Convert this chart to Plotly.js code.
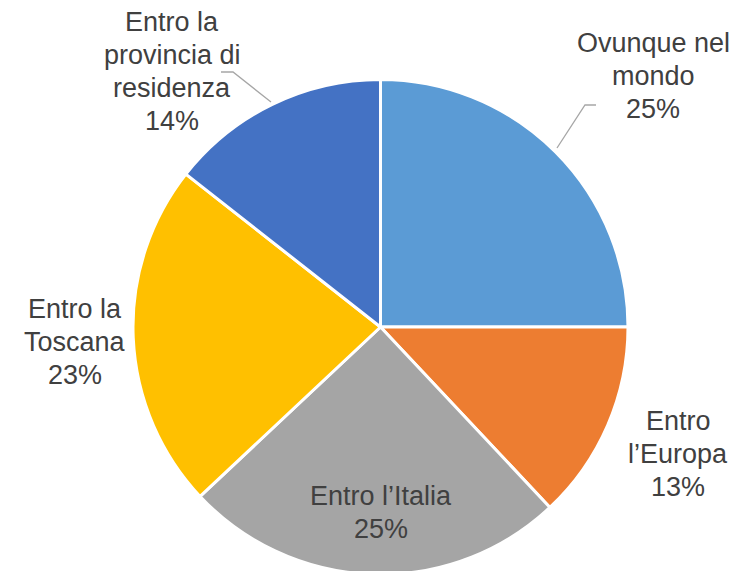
<!DOCTYPE html>
<html>
<head>
<meta charset="utf-8">
<script src="https://cdn.plot.ly/plotly-3.0.1.min.js"></script>
<style>
html, body { margin: 0; padding: 0; overflow: hidden; background: #fff; }
#chart { width: 735px; height: 575px; }
</style>
</head>
<body>
<div id="chart"></div>
<script>
// Data
const categories = ["Ovunque nel mondo", "Entro l\u2019Europa", "Entro l\u2019Italia", "Entro la Toscana", "Entro la provincia di residenza"];
const labelLines = [["Ovunque nel", "mondo"], ["Entro", "l\u2019Europa"], ["Entro l\u2019Italia"], ["Entro la", "Toscana"], ["Entro la", "provincia di", "residenza"]];
const values = [25, 13, 25, 22.6, 14.4];
const colors = ["#5B9BD5", "#ED7D31", "#A5A5A5", "#FFC000", "#4472C4"];

// Layout geometry (pixels)
const W = 735, H = 575;
const cx = 380.5, cy = 327, R = 247.5;
const lineStep = 33;
const labelPos = [[653, 76], [678, 454], [381, 512], [75, 342], [172, 71.5]];
const leaders = [
  [[596, 105], [585, 105], [557, 148]],
  null, null, null,
  [[221, 72], [233, 72], [271, 102]]
];

const px = (x, y) => [x / W, (H - y) / H];
const total = values.reduce((a, b) => a + b, 0);

const annotations = [];
categories.forEach((c, i) => {
  const pct = Math.round(values[i] / total * 100) + "%";
  const lines = labelLines[i].concat([pct]);
  const n = lines.length;
  lines.forEach((t, k) => {
    const yy = labelPos[i][1] + (k - (n - 1) / 2) * lineStep;
    const [x, y] = px(labelPos[i][0], yy);
    annotations.push({
      xref: "paper", yref: "paper", x: x, y: y,
      xanchor: "center", yanchor: "middle",
      showarrow: false, align: "center",
      text: t,
      font: { family: "Liberation Sans, Arial, sans-serif", size: 27, color: "#404040" }
    });
  });
});

const shapes = [];
leaders.forEach(l => {
  if (!l) return;
  const p = l.map(pt => px(pt[0], pt[1]));
  shapes.push({
    type: "path", xref: "paper", yref: "paper",
    path: "M" + p.map(q => q[0] + "," + q[1]).join(" L"),
    line: { color: "#A6A6A6", width: 1.3 }
  });
});

const trace = {
  type: "pie",
  labels: categories,
  values: values,
  sort: false,
  direction: "clockwise",
  rotation: 0,
  textinfo: "none",
  hoverinfo: "label+percent",
  marker: { colors: colors, line: { color: "#FFFFFF", width: 3 } },
  domain: {
    x: [(cx - R) / W, (cx + R) / W],
    y: [(H - cy - R) / H, (H - cy + R) / H]
  },
  showlegend: false
};

const layout = {
  width: W, height: H,
  margin: { l: 0, r: 0, t: 0, b: 0 },
  paper_bgcolor: "#FFFFFF",
  showlegend: false,
  annotations: annotations,
  shapes: shapes
};

Plotly.newPlot("chart", [trace], layout, { displayModeBar: false, staticPlot: true });
</script>
</body>
</html>
